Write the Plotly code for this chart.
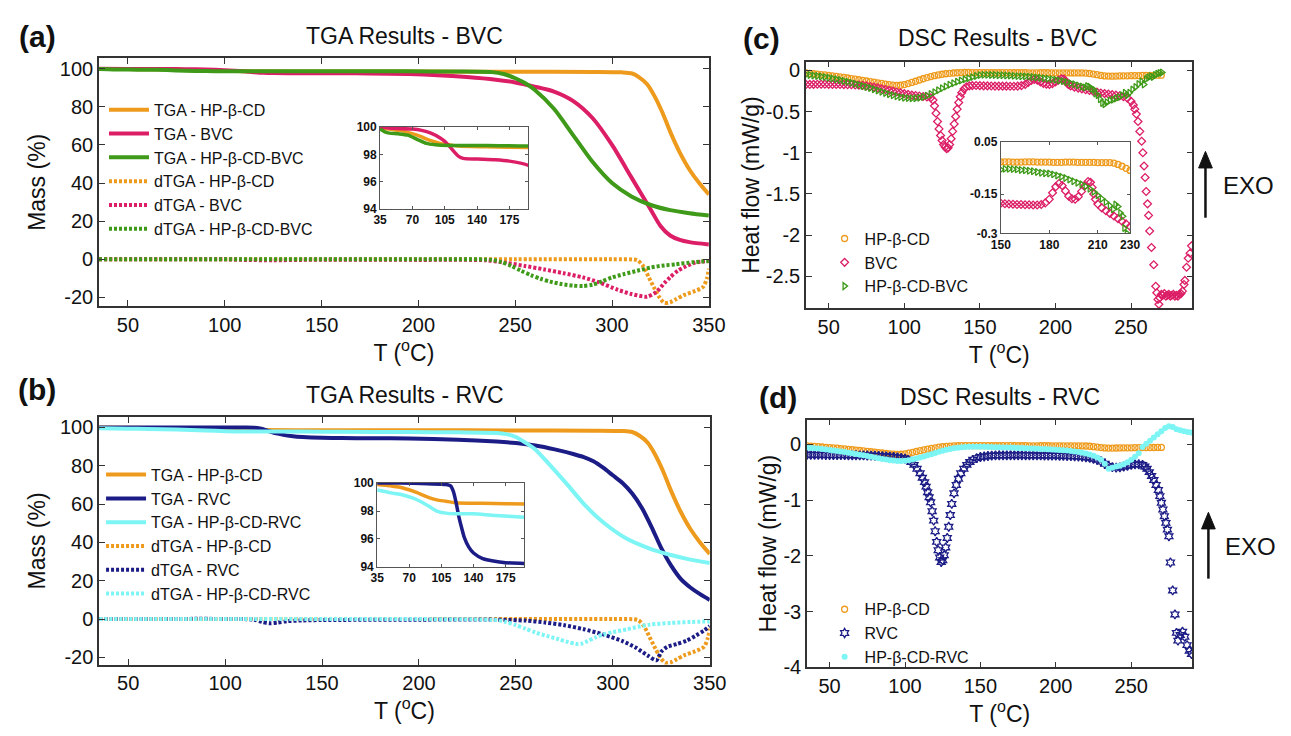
import plotly.graph_objects as go

W, H = 1291, 736
FONT = "Liberation Sans, Arial, sans-serif"
ORANGE = "#EE9B1D"
CRIMSON = "#DC1E66"
GREEN = "#3E9A18"
NAVY = "#1C1C86"
CYAN = "#7DF5F5"

# ---------------- TGA: mass (%) vs temperature (°C) ----------------
tga_cd_T = [35, 50, 60, 75, 90, 100, 110, 120, 150, 200, 250, 290, 305, 310, 314, 318, 322, 326, 330, 335, 340, 345, 350]
tga_cd_M = [99.9, 99.8, 99.7, 99.4, 99.0, 98.8, 98.7, 98.6, 98.55, 98.5, 98.4, 98.3, 98.1, 97.6, 95.5, 92, 85.5, 77, 67, 56, 47, 40, 34]

tga_bvc_T = [35, 50, 70, 80, 90, 100, 105, 110, 115, 120, 125, 140, 160, 175, 195, 210, 225, 240, 250, 260, 270, 280, 290, 300, 310, 320, 325, 330, 335, 340, 350]
tga_bvc_M = [100, 99.9, 99.85, 99.75, 99.55, 99.2, 98.95, 98.6, 98.2, 97.85, 97.7, 97.65, 97.6, 97.5, 97.2, 96.6, 95.6, 94.2, 92.8, 90.6, 88, 83, 74, 60, 43, 26, 17.5, 12.5, 10.2, 9, 7.8]

tga_cdbvc_T = [35, 40, 45, 55, 65, 75, 85, 95, 110, 150, 195, 220, 238, 244, 250, 255, 260, 270, 280, 290, 300, 310, 320, 330, 340, 350]
tga_cdbvc_M = [99.85, 99.65, 99.55, 99.5, 99.4, 99.1, 98.8, 98.7, 98.65, 98.65, 98.6, 98.5, 98.2, 97.2, 95, 92.5, 89, 79, 65, 51, 40, 33, 28.5, 25.8, 24.2, 23]

tga_rvc_T = [35, 60, 90, 110, 115, 118, 121, 124, 127, 130, 135, 140, 150, 160, 175, 195, 220, 240, 250, 260, 270, 280, 285, 290, 295, 300, 305, 310, 315, 320, 325, 330, 335, 340, 345, 350]
tga_rvc_M = [100, 100, 99.95, 99.9, 99.8, 99.4, 98.6, 97.6, 96.8, 96.1, 95.4, 95.0, 94.6, 94.45, 94.3, 94.25, 93.6, 92.6, 91.8, 90.5, 88.5, 86, 84.5, 82.3, 79, 75, 71, 65.5, 58, 48, 37, 28, 21, 16.5, 13, 10]

tga_cdrvc_T = [35, 50, 60, 75, 90, 100, 110, 120, 140, 160, 195, 220, 240, 245, 250, 255, 260, 267, 276, 286, 295, 307, 319, 330, 340, 350]
tga_cdrvc_M = [99.5, 99.3, 99.2, 98.9, 98.4, 98.0, 97.85, 97.8, 97.8, 97.7, 97.55, 97.4, 97.1, 96.5, 95, 92, 88.5, 81, 70.8, 59, 50.5, 42, 36.8, 33.4, 31, 29.2]

# ---------------- dTGA: derivative curves ----------------
dtga_cd_T = [35, 150, 250, 300, 313, 316, 319, 322, 324.5, 327, 330, 333, 337, 342, 347, 349, 350]
dtga_cd_D = [0, 0, 0, 0, -0.5, -3.5, -9.5, -15.5, -20, -22.8, -22.5, -21, -18.8, -17, -14.5, -10, -5]

dtga_bvc_T = [35, 100, 110, 125, 140, 200, 235, 245, 255, 265, 275, 285, 293, 303, 310, 318, 323, 327, 330, 334, 337, 343, 350]
dtga_bvc_D = [0, 0, -0.3, -0.5, -0.3, -0.3, -0.5, -1.8, -3.5, -5.3, -7.3, -9.5, -12, -16, -18.2, -19.6, -17, -12.5, -9.4, -6, -4.3, -1.7, -0.9]

dtga_cdbvc_T = [35, 200, 238, 243, 248, 253, 258, 263, 268, 274, 280, 285, 290, 295, 300, 306, 313, 320, 327, 333, 342, 350]
dtga_cdbvc_D = [0, 0, -0.3, -1.5, -3.5, -6, -8.3, -10.2, -11.7, -13, -13.8, -14, -13.3, -11.5, -9.5, -7.8, -6, -4.3, -3.2, -2.6, -1.5, -0.9]

dtga_rvc_T = [35, 110, 115, 119, 123, 127, 132, 140, 150, 200, 240, 255, 265, 275, 285, 295, 305, 312, 318, 322.5, 325, 328, 333, 338, 343, 347, 350]
dtga_rvc_D = [0, 0, -0.3, -1.5, -2.2, -1.8, -1.1, -0.7, -0.5, -0.3, -0.3, -0.8, -1.8, -3.2, -5.3, -8, -11.5, -15, -19, -21.5, -17, -14.5, -13, -11.3, -8.5, -6, -3.7]

dtga_cdrvc_T = [35, 200, 240, 245, 250, 255, 260, 266, 272, 277, 281, 284, 287, 291, 295, 300, 307, 313, 319, 330, 340, 350]
dtga_cdrvc_D = [0, 0, -0.5, -1.5, -3.2, -5, -7, -8.8, -10.5, -12, -13, -12.8, -11.5, -9.6, -8, -6.8, -5.4, -4, -2.9, -2, -1.5, -1.2]

# ---------------- DSC: heat flow (mW/g) vs temperature (°C) ----------------
dsc_cd_T = [35, 37.5, 40, 42.5, 45, 47.5, 50, 52.5, 55, 57.5, 60, 62.5, 65, 67.5, 70, 72.5, 75, 77.5, 80, 82.5,
            85, 87.5, 90, 92.5, 95, 97.5, 100, 102.5, 105, 107.5, 110, 112.5, 115, 117.5, 120, 122.5, 125, 127.5, 130, 132.5,
            135, 137.5, 140, 142.5, 145, 147.5, 150, 152.5, 155, 157.5, 160, 162.5, 165, 167.5, 170, 172.5, 175, 177.5, 180, 182.5,
            185, 187.5, 190, 192.5, 195, 197.5, 200, 202.5, 205, 207.5, 210, 212.5, 215, 217.5, 220, 222.5, 225, 227.5, 230, 232.5,
            235, 237.5, 240, 242.5, 245, 247.5, 250, 252.5, 255, 257.5, 260, 262.5, 265, 267.5, 270]
dsc_cd_Q = [-0.030, -0.035, -0.040, -0.045, -0.050, -0.055, -0.060, -0.066, -0.072, -0.078, -0.085, -0.092, -0.099, -0.106, -0.113, -0.120, -0.128, -0.135, -0.142, -0.150,
            -0.158, -0.166, -0.173, -0.179, -0.183, -0.180, -0.172, -0.160, -0.146, -0.131, -0.116, -0.101, -0.087, -0.075, -0.064, -0.054, -0.046, -0.040, -0.035, -0.031,
            -0.028, -0.026, -0.025, -0.025, -0.026, -0.026, -0.027, -0.027, -0.027, -0.028, -0.028, -0.028, -0.027, -0.027, -0.027, -0.028, -0.028, -0.028, -0.028, -0.029,
            -0.029, -0.029, -0.028, -0.028, -0.028, -0.029, -0.029, -0.029, -0.029, -0.029, -0.030, -0.030, -0.030, -0.030, -0.032, -0.037, -0.044, -0.052, -0.060, -0.066,
            -0.069, -0.070, -0.068, -0.066, -0.065, -0.065, -0.064, -0.063, -0.062, -0.061, -0.060, -0.060, -0.059, -0.058, -0.058]

dsc_bvc_T = [35, 37.5, 40, 42.5, 45, 47.5, 50, 52.5, 55, 57.5, 60, 62.5, 65, 67.5, 70, 72.5, 75, 77.5, 80, 82.5,
             85, 87.5, 90, 92.5, 95, 97.5, 100, 102.5, 105, 107.5, 110, 112.5, 115, 117.5, 119, 120, 121, 122, 123, 124,
             125, 126, 127, 128, 129, 130, 131, 132, 133, 134, 135, 136, 137, 138, 139.5, 141, 143, 145, 147.5, 150,
             152.5, 155, 157.5, 160, 162.5, 165, 167.5, 170, 172.5, 175, 177.5, 180, 182, 184, 186, 188, 190, 192, 194, 196,
             198, 200, 202, 204, 205.5, 206.5, 207.5, 208.5, 210, 212.5, 215, 217.5, 220, 222.5, 225, 227.5, 230, 232.5, 235, 237.5,
             240, 242.5, 245, 247.5, 250, 251.5, 252.5, 253.5, 254.6, 255.8, 257, 257.8, 258.6, 259.3, 260, 260.9, 261.6, 262.3, 263.5, 265,
             266.3, 267, 267.8, 268.4, 269, 270, 271, 272, 273, 274, 275, 276, 277, 278, 279, 280, 281, 282, 283, 284,
             285, 285.6, 286.7, 287.8, 289, 290]
dsc_bvc_Q = [-0.170, -0.170, -0.169, -0.168, -0.168, -0.168, -0.169, -0.170, -0.170, -0.171, -0.172, -0.173, -0.174, -0.176, -0.178, -0.182, -0.188, -0.195, -0.203, -0.212,
             -0.222, -0.232, -0.242, -0.252, -0.262, -0.272, -0.282, -0.291, -0.299, -0.305, -0.311, -0.316, -0.322, -0.332, -0.36, -0.43, -0.52, -0.62, -0.71, -0.79,
             -0.85, -0.90, -0.93, -0.95, -0.94, -0.90, -0.83, -0.74, -0.65, -0.56, -0.47, -0.39, -0.32, -0.27, -0.225, -0.20, -0.188, -0.184, -0.183, -0.185,
             -0.187, -0.188, -0.189, -0.190, -0.190, -0.191, -0.191, -0.192, -0.192, -0.190, -0.184, -0.170, -0.145, -0.122, -0.110, -0.118, -0.138, -0.158, -0.168, -0.170,
             -0.160, -0.140, -0.118, -0.102, -0.105, -0.125, -0.150, -0.170, -0.188, -0.203, -0.214, -0.224, -0.234, -0.244, -0.254, -0.264, -0.274, -0.281, -0.288, -0.294,
             -0.300, -0.308, -0.318, -0.336, -0.375, -0.42, -0.47, -0.53, -0.62, -0.74, -0.86, -1.00, -1.16, -1.30, -1.47, -1.62, -1.76, -1.95, -2.15, -2.36,
             -2.62, -2.70, -2.78, -2.84, -2.76, -2.72, -2.73, -2.71, -2.74, -2.73, -2.72, -2.74, -2.73, -2.72, -2.74, -2.73, -2.74, -2.72, -2.71, -2.68,
             -2.60, -2.55, -2.39, -2.28, -2.22, -2.13]

dsc_cdbvc_T = [35, 37.5, 40, 42.5, 45, 47.5, 50, 52.5, 55, 57.5, 60, 62.5, 65, 67.5, 70, 72.5, 75, 77.5, 80, 82.5,
               85, 87.5, 90, 92.5, 95, 97.5, 100, 102.5, 105, 107.5, 110, 112.5, 115, 117.5, 120, 122.5, 125, 127.5, 130, 132.5,
               135, 137.5, 140, 142.5, 145, 147.5, 150, 152.5, 155, 157.5, 160, 162.5, 165, 167.5, 170, 172.5, 175, 177.5, 180, 182.5,
               185, 187.5, 190, 192.5, 195, 197.5, 200, 202.5, 205, 207.5, 210, 212.5, 215, 217.5, 219.5, 221, 222.5, 224, 225.5, 226.5,
               228, 229.5, 231, 232.5, 234, 236, 238, 240, 242, 244, 246, 247.5, 249, 251, 253, 255, 257, 258.5, 260, 261.5,
               263, 264.5, 266, 267.5, 269, 270.5]
dsc_cdbvc_Q = [-0.050, -0.056, -0.062, -0.068, -0.074, -0.081, -0.089, -0.098, -0.107, -0.117, -0.127, -0.138, -0.150, -0.162, -0.175, -0.188, -0.201, -0.214, -0.228, -0.243,
               -0.258, -0.273, -0.288, -0.302, -0.314, -0.324, -0.331, -0.336, -0.338, -0.337, -0.332, -0.322, -0.306, -0.286, -0.263, -0.240, -0.217, -0.195, -0.174, -0.155,
               -0.138, -0.122, -0.108, -0.094, -0.081, -0.068, -0.057, -0.054, -0.054, -0.055, -0.056, -0.058, -0.059, -0.061, -0.063, -0.066, -0.069, -0.071, -0.072, -0.075,
               -0.079, -0.084, -0.089, -0.095, -0.101, -0.107, -0.113, -0.121, -0.130, -0.141, -0.155, -0.168, -0.181, -0.195, -0.208, -0.190, -0.198, -0.222, -0.235, -0.280,
               -0.300, -0.350, -0.395, -0.410, -0.385, -0.365, -0.355, -0.340, -0.325, -0.300, -0.270, -0.300, -0.270, -0.230, -0.200, -0.165, -0.135, -0.170, -0.105, -0.085,
               -0.070, -0.080, -0.055, -0.040, -0.030, -0.025]

dsc_rvc_T = [35, 37.5, 40, 42.5, 45, 47.5, 50, 52.5, 55, 57.5, 60, 62.5, 65, 67.5, 70, 72.5, 75, 77.5, 80, 82.5,
             85, 87.5, 90, 92.5, 95, 97.5, 100, 102, 104, 106, 108, 110, 111.5, 113, 114, 115, 116, 117, 118, 119,
             120, 121, 122, 123, 124, 125, 126, 127, 128, 129, 130, 131, 132.5, 134, 135.5, 137, 139, 141, 143, 145,
             147.5, 150, 152.5, 155, 157.5, 160, 162.5, 165, 167.5, 170, 172.5, 175, 177.5, 180, 182.5, 185, 187.5, 190, 192.5, 195,
             197.5, 200, 202.5, 205, 207.5, 210, 212.5, 215, 217.5, 220, 222.5, 225, 227.5, 230, 232.5, 235, 237.5, 240, 242.5, 245,
             247.5, 250, 252.5, 255, 257.5, 259, 260.5, 262, 263.5, 265, 266.5, 268, 269, 270, 271, 272, 273, 274, 275, 276,
             277.5, 279, 280, 281, 282.5, 284, 285.5, 287, 288.5, 290]
dsc_rvc_Q = [-0.190, -0.190, -0.191, -0.192, -0.192, -0.193, -0.193, -0.194, -0.195, -0.195, -0.196, -0.197, -0.198, -0.199, -0.200, -0.201, -0.203, -0.205, -0.207, -0.210,
             -0.213, -0.217, -0.222, -0.228, -0.236, -0.246, -0.260, -0.280, -0.320, -0.370, -0.440, -0.520, -0.600, -0.680, -0.760, -0.860, -0.950, -1.040, -1.200, -1.370,
             -1.560, -1.750, -1.900, -2.030, -2.110, -2.080, -1.990, -1.850, -1.680, -1.480, -1.270, -1.070, -0.880, -0.730, -0.620, -0.520, -0.440, -0.370, -0.320, -0.280,
             -0.250, -0.230, -0.220, -0.210, -0.205, -0.200, -0.199, -0.198, -0.198, -0.197, -0.197, -0.197, -0.197, -0.198, -0.198, -0.199, -0.200, -0.201, -0.202, -0.203,
             -0.204, -0.205, -0.207, -0.209, -0.211, -0.213, -0.216, -0.220, -0.226, -0.234, -0.245, -0.260, -0.280, -0.310, -0.350, -0.390, -0.410, -0.420, -0.415, -0.400,
             -0.385, -0.370, -0.360, -0.360, -0.370, -0.400, -0.440, -0.500, -0.570, -0.640, -0.730, -0.820, -0.930, -1.050, -1.170, -1.290, -1.410, -1.530, -1.650, -2.120,
             -2.620, -3.050, -3.380, -3.520, -3.420, -3.360, -3.450, -3.600, -3.700, -3.760]

dsc_cdrvc_T = [35, 37.5, 40, 42.5, 45, 47.5, 50, 52.5, 55, 57.5, 60, 62.5, 65, 67.5, 70, 72.5, 75, 77.5, 80, 82.5,
               85, 87.5, 90, 92.5, 95, 97.5, 100, 102.5, 105, 107.5, 110, 112.5, 115, 117.5, 120, 122.5, 125, 127.5, 130, 132.5,
               135, 137.5, 140, 142.5, 145, 147.5, 150, 152.5, 155, 157.5, 160, 162.5, 165, 167.5, 170, 172.5, 175, 177.5, 180, 182.5,
               185, 187.5, 190, 192.5, 195, 197.5, 200, 202.5, 205, 207.5, 210, 212.5, 215, 217.5, 220, 222.5, 225, 227.5, 230, 232.5,
               235, 237.5, 240, 242.5, 245, 247.5, 250, 252.5, 255, 257.5, 260, 262.5, 265, 267.5, 270, 272.5, 275, 277.5, 280, 282.5,
               285, 287.5, 290]
dsc_cdrvc_Q = [-0.060, -0.066, -0.072, -0.079, -0.086, -0.094, -0.102, -0.111, -0.120, -0.130, -0.140, -0.151, -0.163, -0.175, -0.187, -0.199, -0.212, -0.225, -0.238, -0.251,
               -0.264, -0.276, -0.286, -0.294, -0.299, -0.300, -0.296, -0.287, -0.274, -0.258, -0.240, -0.220, -0.199, -0.178, -0.157, -0.137, -0.118, -0.101, -0.086, -0.074,
               -0.064, -0.056, -0.050, -0.046, -0.044, -0.044, -0.045, -0.047, -0.049, -0.051, -0.053, -0.055, -0.057, -0.059, -0.061, -0.063, -0.066, -0.069, -0.072, -0.075,
               -0.078, -0.081, -0.084, -0.087, -0.090, -0.094, -0.098, -0.103, -0.108, -0.114, -0.121, -0.129, -0.139, -0.151, -0.166, -0.185, -0.209, -0.240, -0.280, -0.350,
               -0.440, -0.420, -0.400, -0.385, -0.360, -0.325, -0.280, -0.225, -0.160, -0.050, 0.010, 0.060, 0.120, 0.180, 0.230, 0.290, 0.320, 0.310, 0.270, 0.250,
               0.230, 0.220, 0.210]

# ---------------- axis tick labels ----------------
tga_xticks = [50, 100, 150, 200, 250, 300, 350]
tga_yticks = [-20, 0, 20, 40, 60, 80, 100]
tga_yticktext = ["-20", "0", "20", "40", "60", "80", "100"]
inset_tga_xticks = [35, 70, 105, 140, 175]
inset_tga_yticks = [94, 96, 98, 100]
dsc_xticks = [50, 100, 150, 200, 250]
dsc_c_yticks = [-2.5, -2, -1.5, -1, -0.5, 0]
dsc_c_yticktext = ["-2.5", "-2", "-1.5", "-1", "-0.5", "0"]
dsc_d_yticks = [-4, -3, -2, -1, 0]
dsc_d_yticktext = ["-4", "-3", "-2", "-1", "0"]
inset_dsc_xticks = [150, 180, 210, 230]
inset_dsc_yticks = [-0.3, -0.15, 0.05]
inset_dsc_yticktext = ["-0.3", "-0.15", "0.05"]


def fx(p):
    return p / W


def fy(p):
    return 1 - p / H


fig = go.Figure()


def add_line(x, y, color, name, xa, ya, dotted=False, width=4.0, legend="legend", show=True):
    fig.add_trace(go.Scatter(
        x=x, y=y, mode="lines", name=name, xaxis=xa, yaxis=ya,
        legend=legend, showlegend=show, hoverinfo="skip",
        line=dict(color=color, width=width, shape="spline", smoothing=0.7,
                  dash="3px,2px" if dotted else "solid")))


def add_marks(x, y, color, name, xa, ya, symbol, size, legend="legend3", show=True, lw=1.3):
    fig.add_trace(go.Scatter(
        x=x, y=y, mode="markers", name=name, xaxis=xa, yaxis=ya,
        legend=legend, showlegend=show, hoverinfo="skip",
        marker=dict(color=color, symbol=symbol, size=size, line=dict(color=color, width=lw))))


# (a) TGA - BVC
add_line(tga_cd_T, tga_cd_M, ORANGE, "TGA - HP-β-CD", "x", "y")
add_line(tga_bvc_T, tga_bvc_M, CRIMSON, "TGA - BVC", "x", "y")
add_line(tga_cdbvc_T, tga_cdbvc_M, GREEN, "TGA - HP-β-CD-BVC", "x", "y")
add_line(dtga_cd_T, dtga_cd_D, ORANGE, "dTGA - HP-β-CD", "x", "y", dotted=True)
add_line(dtga_bvc_T, dtga_bvc_D, CRIMSON, "dTGA - BVC", "x", "y", dotted=True)
add_line(dtga_cdbvc_T, dtga_cdbvc_D, GREEN, "dTGA - HP-β-CD-BVC", "x", "y", dotted=True)
# (a) inset: early mass loss
add_line(tga_cd_T, tga_cd_M, ORANGE, "TGA - HP-β-CD", "x2", "y2", width=3.5, show=False)
add_line(tga_bvc_T, tga_bvc_M, CRIMSON, "TGA - BVC", "x2", "y2", width=3.5, show=False)
add_line(tga_cdbvc_T, tga_cdbvc_M, GREEN, "TGA - HP-β-CD-BVC", "x2", "y2", width=3.5, show=False)

# (b) TGA - RVC
add_line(tga_cd_T, tga_cd_M, ORANGE, "TGA - HP-β-CD", "x3", "y3", legend="legend2")
add_line(tga_rvc_T, tga_rvc_M, NAVY, "TGA - RVC", "x3", "y3", legend="legend2")
add_line(tga_cdrvc_T, tga_cdrvc_M, CYAN, "TGA - HP-β-CD-RVC", "x3", "y3", legend="legend2")
add_line(dtga_cd_T, dtga_cd_D, ORANGE, "dTGA - HP-β-CD", "x3", "y3", dotted=True, legend="legend2")
add_line(dtga_rvc_T, dtga_rvc_D, NAVY, "dTGA - RVC", "x3", "y3", dotted=True, legend="legend2")
add_line(dtga_cdrvc_T, dtga_cdrvc_D, CYAN, "dTGA - HP-β-CD-RVC", "x3", "y3", dotted=True, legend="legend2")
# (b) inset
add_line(tga_cd_T, tga_cd_M, ORANGE, "TGA - HP-β-CD", "x4", "y4", width=3.5, show=False)
add_line(tga_rvc_T, tga_rvc_M, NAVY, "TGA - RVC", "x4", "y4", width=3.5, show=False)
add_line(tga_cdrvc_T, tga_cdrvc_M, CYAN, "TGA - HP-β-CD-RVC", "x4", "y4", width=3.5, show=False)

# (c) DSC - BVC
add_marks(dsc_cd_T, dsc_cd_Q, ORANGE, "HP-β-CD", "x5", "y5", "circle-open", 6)
add_marks(dsc_bvc_T, dsc_bvc_Q, CRIMSON, "BVC", "x5", "y5", "diamond-open", 6)
add_marks(dsc_cdbvc_T, dsc_cdbvc_Q, GREEN, "HP-β-CD-BVC", "x5", "y5", "triangle-right-open", 6)
# (c) inset
add_marks(dsc_cd_T, dsc_cd_Q, ORANGE, "HP-β-CD", "x6", "y6", "circle-open", 6, show=False)
add_marks(dsc_bvc_T, dsc_bvc_Q, CRIMSON, "BVC", "x6", "y6", "diamond-open", 6, show=False)
add_marks(dsc_cdbvc_T, dsc_cdbvc_Q, GREEN, "HP-β-CD-BVC", "x6", "y6", "triangle-right-open", 6, show=False)

# (d) DSC - RVC
add_marks(dsc_cd_T, dsc_cd_Q, ORANGE, "HP-β-CD", "x7", "y7", "circle-open", 6, legend="legend4")
add_marks(dsc_rvc_T, dsc_rvc_Q, NAVY, "RVC", "x7", "y7", "hexagram-open", 7, legend="legend4")
add_marks(dsc_cdrvc_T, dsc_cdrvc_Q, CYAN, "HP-β-CD-RVC", "x7", "y7", "circle", 6, legend="legend4", lw=0)


def main_axis(domain, rng, anchor, tickvals, ticktext=None, title=None, standoff=6):
    ax = dict(domain=domain, range=rng, anchor=anchor, tickvals=tickvals,
              showline=True, linecolor="#333", linewidth=1.5, mirror="allticks",
              ticks="inside", ticklen=6, tickwidth=1.3, tickcolor="#333",
              showgrid=False, zeroline=False,
              tickfont=dict(family=FONT, size=20, color="#111"))
    if ticktext is not None:
        ax["ticktext"] = ticktext
    if title is not None:
        ax["title"] = dict(text=title, standoff=standoff, font=dict(family=FONT, size=23, color="#111"))
    return ax


def inset_axis(domain, rng, anchor, tickvals, ticktext=None):
    ax = dict(domain=domain, range=rng, anchor=anchor, tickvals=tickvals,
              showline=True, linecolor="#555", linewidth=1, mirror="allticks",
              ticks="inside", ticklen=3, tickwidth=1, tickcolor="#555",
              showgrid=False, zeroline=False,
              tickfont=dict(family=FONT, size=12, color="#111", weight="bold"))
    if ticktext is not None:
        ax["ticktext"] = ticktext
    return ax


XT = "T (<sup>o</sup>C)"

layout_axes = dict(
    xaxis=main_axis([fx(90.8), fx(713.8)], [35, 350], "y", tga_xticks, title=XT, standoff=4),
    yaxis=main_axis([fy(306.7), fy(52.7)], [-24.6, 105.4], "x", tga_yticks, tga_yticktext, title="Mass (%)", standoff=8),
    xaxis2=inset_axis([fx(378), fx(529)], [35, 195], "y2", inset_tga_xticks),
    yaxis2=inset_axis([fy(207), fy(123)], [94, 100], "x2", inset_tga_yticks),
    xaxis3=main_axis([fx(91), fx(714.7)], [35, 350], "y3", tga_xticks, title=XT, standoff=4),
    yaxis3=main_axis([fy(674), fy(420.7)], [-23.7, 105.2], "x3", tga_yticks, tga_yticktext, title="Mass (%)", standoff=8),
    xaxis4=inset_axis([fx(375), fx(525)], [35, 195], "y4", inset_tga_xticks),
    yaxis4=inset_axis([fy(574), fy(488)], [94, 100], "x4", inset_tga_yticks),
    xaxis5=main_axis([fx(813), fx(1207.7)], [35, 290.6], "y5", dsc_xticks, title=XT, standoff=4),
    yaxis5=main_axis([fy(309), fy(56)], [-2.89, 0.107], "x5", dsc_c_yticks, dsc_c_yticktext, title="Heat flow (mW/g)", standoff=0),
    xaxis6=inset_axis([fx(1012), fx(1144)], [150, 230], "y6", inset_dsc_xticks),
    yaxis6=inset_axis([fy(232), fy(138)], [-0.3, 0.05], "x6", inset_dsc_yticks, inset_dsc_yticktext),
    xaxis7=main_axis([fx(814), fx(1207.7)], [35, 290.6], "y7", dsc_xticks, title=XT, standoff=4),
    yaxis7=main_axis([fy(677), fy(423)], [-4, 0.44], "x7", dsc_d_yticks, dsc_d_yticktext, title="Heat flow (mW/g)", standoff=0),
)


def legend_box(x, y, itemwidth=40):
    return dict(x=fx(x), y=fy(y), xanchor="left", yanchor="top", bgcolor="rgba(0,0,0,0)",
                borderwidth=0, itemwidth=itemwidth, tracegroupgap=0,
                font=dict(family=FONT, size=16, color="#111"))


def text(x, y, s, size, bold=False):
    return dict(x=fx(x), y=fy(y), xref="paper", yref="paper", text=s, showarrow=False,
                xanchor="center", yanchor="middle",
                font=dict(family=FONT, size=size, color="#111", weight="bold" if bold else "normal"))


def exo_arrow(x, y_tip, y_tail, half=7, head=17):
    # shaft plus a filled triangular head pointing upward (exothermic direction)
    shaft = dict(type="line", xref="paper", yref="paper",
                 x0=fx(x), x1=fx(x), y0=fy(y_tail), y1=fy(y_tip + head - 2),
                 line=dict(color="#111", width=2.5))
    tip = dict(type="path", xref="paper", yref="paper", fillcolor="#111",
               line=dict(color="#111", width=1),
               path=f"M {fx(x)} {fy(y_tip)} L {fx(x - half)} {fy(y_tip + head)} L {fx(x + half)} {fy(y_tip + head)} Z")
    return [shaft, tip]


annotations = [
    text(28, 30, "(a)", 30, bold=True),
    text(403, 30, "TGA Results - BVC", 23),
    text(28, 392, "(b)", 30, bold=True),
    text(403, 398, "TGA Results - RVC", 23),
    text(768, 32, "(c)", 30, bold=True),
    text(1009, 32, "DSC Results - BVC", 23),
    text(784, 400, "(d)", 30, bold=True),
    text(1011, 400, "DSC Results - RVC", 23),
    text(1265, 183, "EXO", 24),
    text(1267, 553, "EXO", 24),
]

shapes = exo_arrow(1221, 148, 216) + exo_arrow(1224, 518, 586)

fig.update_layout(
    width=W, height=H, margin=dict(l=0, r=0, t=0, b=0),
    paper_bgcolor="white", plot_bgcolor="white",
    font=dict(family=FONT, color="#111"),
    legend=legend_box(96, 88),
    legend2=legend_box(93, 462),
    legend3=legend_box(832, 220, itemwidth=30),
    legend4=legend_box(832, 600, itemwidth=30),
    annotations=annotations,
    shapes=shapes,
    **layout_axes,
)

fig.write_html("out.html")
